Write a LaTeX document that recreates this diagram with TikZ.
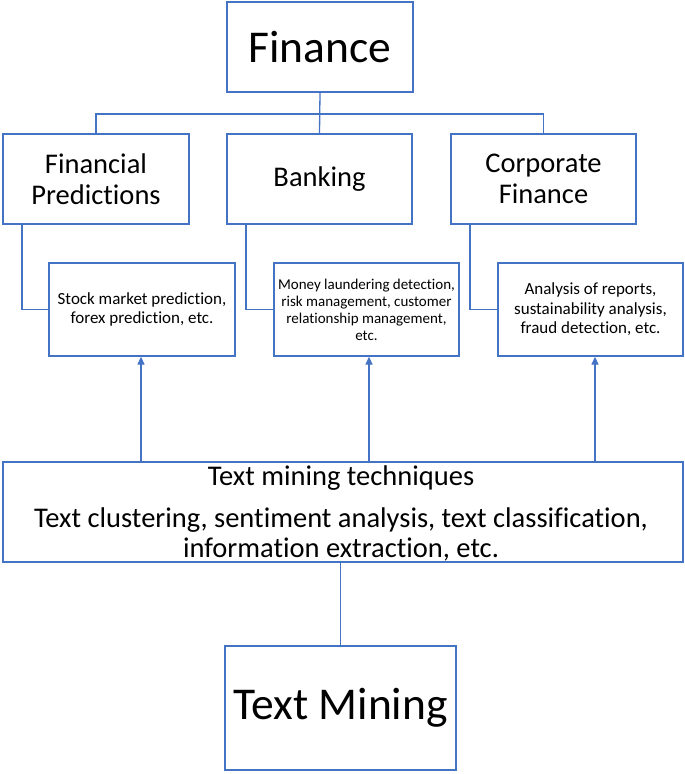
\documentclass[tikz,border=0pt]{standalone}
\usepackage{fontspec}
\setmainfont{Carlito}[Ligatures=NoCommon]
\usetikzlibrary{arrows.meta,calc}
\definecolor{lineblue}{HTML}{4472C4}
\begin{document}
\begin{tikzpicture}[x=1pt,y=-1pt,
  box/.style={draw=lineblue,line width=1.3pt,fill=white,inner sep=0pt,align=center,text=black},
  conn/.style={draw=lineblue,line width=1.3pt},
  arr/.style={draw=lineblue,line width=1.3pt,-{Triangle[width=7pt,length=8pt]}},
  huge/.style={font=\fontsize{45.5}{50}\selectfont},
  big/.style={font=\fontsize{28.5}{31}\selectfont},
  small/.style={font=\fontsize{17}{19.5}\selectfont},
  tiny/.style={font=\fontsize{15}{17}\selectfont}]
\useasboundingbox (0,0) rectangle (685,774);
% top
\node[box,huge,minimum width=186pt,minimum height=90pt] (fin) at (320,47) {Finance};
\node[box,big,minimum width=186pt,minimum height=90pt] (fp) at (96,179) {Financial\\Predictions};
\node[box,big,minimum width=185pt,minimum height=90pt] (bk) at (319.5,179) {Banking};
\node[box,big,minimum width=185pt,minimum height=90pt] (cf) at (543.5,179) {Corporate\\Finance};
% small boxes
\node[box,small,minimum width=186pt,minimum height=93pt] (s1) at (142,309.5) {Stock market prediction,\\forex prediction, etc.};
\node[box,tiny,minimum width=185pt,minimum height=93pt] (s2) at (366.5,309.5) {Money laundering detection,\\risk management, customer\\relationship management,\\etc.};
\node[box,small,minimum width=185pt,minimum height=93pt] (s3) at (590.5,309.5) {Analysis of reports,\\sustainability analysis,\\fraud detection, etc.};
% techniques box
\node[box,minimum width=680pt,minimum height=100pt] (tmt) at (343,512) {};
\node[big,anchor=base,inner sep=0pt] (t1) at (341,485) {Text mining techniques};
\node[big,anchor=base,inner sep=0pt] (t2) at (341,527) {Text clustering, sentiment analysis, text classification,};
\node[big,anchor=base,inner sep=0pt] (t3) at (341,557) {information extraction, etc.};
% text mining
\node[box,huge,minimum width=231pt,minimum height=124pt] (tm) at (340.5,708) {Text Mining};
% bus
\coordinate (bus) at (320,114);
\draw[conn] (fin.south) -- (bk.north);
\draw[conn] (fp.north) -- (fp.north |- bus) -- (cf.north |- bus) -- (cf.north);
% side connectors
\coordinate (c1) at (22,0);
\coordinate (c2) at (246,0);
\coordinate (c3) at (470,0);
\draw[conn] (fp.south -| c1) |- (s1.west);
\draw[conn] (bk.south -| c2) |- (s2.west);
\draw[conn] (cf.south -| c3) |- (s3.west);
% arrows
\coordinate (a1) at (141,0);
\coordinate (a2) at (369,0);
\coordinate (a3) at (595,0);
\draw[arr] (tmt.north -| a1) -- (s1.south -| a1);
\draw[arr] (tmt.north -| a2) -- (s2.south -| a2);
\draw[arr] (tmt.north -| a3) -- (s3.south -| a3);
% bottom stem
\draw[conn] (tm.north |- tmt.south) -- (tm.north);
\end{tikzpicture}
\end{document}
